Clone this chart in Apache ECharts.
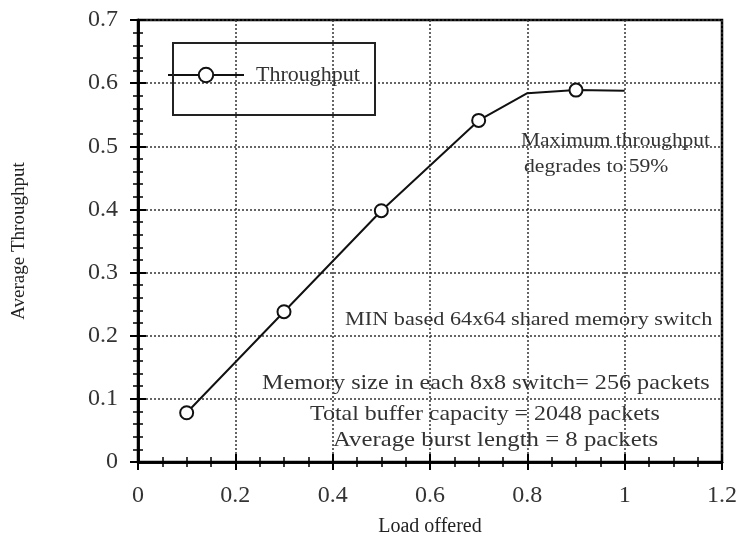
<!DOCTYPE html>
<html><head><meta charset="utf-8">
<script src="https://cdn.jsdelivr.net/npm/echarts@6/dist/echarts.min.js"></script>
<style>html,body{margin:0;padding:0;background:#fff}#c{width:747px;height:541px}</style>
</head><body><div id="c"></div>
<script>
const xTicks = [0, 0.2, 0.4, 0.6, 0.8, 1, 1.2];
const yTicks = [0, 0.1, 0.2, 0.3, 0.4, 0.5, 0.6, 0.7];
const loadOffered = [0.1, 0.3, 0.5, 0.7, 0.8, 0.9, 1.0];
const throughput = [0.078, 0.238, 0.398, 0.541, 0.584, 0.589, 0.588];
const hasMarker = [true, true, true, true, false, true, false];
const notes = ["Maximum throughput", "degrades to 59%", "MIN based 64x64 shared memory switch",
  "Memory size in each 8x8 switch= 256 packets", "Total buffer capacity = 2048 packets",
  "Average burst length = 8 packets"];

const F = '"Liberation Serif", "Times New Roman", serif';
const chart = echarts.init(document.getElementById('c'));
const common = {
  min: 0, axisLine: {show: true, lineStyle: {color: '#000', width: 2.5}},
  axisTick: {inside: true, length: 8, lineStyle: {color: '#000', width: 2}},
  minorTick: {show: true, length: 5, lineStyle: {color: '#000', width: 1.5}},
};
function note(txt, x, y, size, sx) {
  return {type: 'text', x: x, y: y, scaleX: sx, z: 10,
    style: {text: txt, font: size + 'px ' + F, fill: '#333', align: 'left', verticalAlign: 'middle'}};
}
chart.setOption({
  animation: false,
  grid: {left: 138, right: 25, top: 20, bottom: 79, show: true, borderColor: '#000', borderWidth: 2.5,
         containLabel: false, outerBoundsMode: 'none'},
  legend: {
    left: 167, top: 64, orient: 'vertical', padding: 0,
    itemWidth: 76, itemHeight: 18, itemGap: 0,
    textStyle: {fontFamily: F, fontSize: 22, color: '#333', padding: [0, 0, 0, 7]},
    data: ['Throughput']
  },
  xAxis: [
    Object.assign({}, common, {
      type: 'value', max: 1.2, interval: 0.2, minorTick: Object.assign({}, common.minorTick, {splitNumber: 4}),
      name: 'Load offered', nameLocation: 'middle', nameGap: 55,
      nameTextStyle: {fontFamily: F, fontSize: 20, color: '#222'},
      axisLabel: {fontFamily: F, fontSize: 24, color: '#333', margin: 22, formatter: v => String(+v.toFixed(1))},
      splitLine: {show: true, lineStyle: {type: [2, 2], color: '#333', width: 1.5}}
    }),
    Object.assign({}, common, {
      type: 'value', position: 'top', max: 1.2, interval: 0.2,
      minorTick: Object.assign({}, common.minorTick, {splitNumber: 4}),
      axisLabel: {show: false}, splitLine: {show: false}
    })
  ],
  yAxis: [
    Object.assign({}, common, {
      type: 'value', max: 0.7, interval: 0.1, minorTick: Object.assign({}, common.minorTick, {splitNumber: 5}),
      name: 'Average Throughput', nameLocation: 'middle', nameGap: 109, nameRotate: 90,
      nameTextStyle: {fontFamily: F, fontSize: 19, color: '#222'},
      axisLabel: {fontFamily: F, fontSize: 24, color: '#333', margin: 20, formatter: v => String(+v.toFixed(1))},
      splitLine: {show: true, lineStyle: {type: [2, 2], color: '#333', width: 1.5}}
    }),
    Object.assign({}, common, {
      type: 'value', position: 'right', max: 0.7, interval: 0.1,
      minorTick: Object.assign({}, common.minorTick, {splitNumber: 5}),
      axisLabel: {show: false}, splitLine: {show: false}
    })
  ],
  series: [{
    name: 'Throughput', type: 'line', xAxisIndex: 0, yAxisIndex: 0,
    symbol: 'emptyCircle', symbolSize: 13,
    lineStyle: {color: '#111', width: 2},
    itemStyle: {color: '#111', borderColor: '#111', borderWidth: 2},
    data: loadOffered.map((x, i) => hasMarker[i] ? [x, throughput[i]] : {value: [x, throughput[i]], symbol: 'none'})
  }],
  graphic: [
    {type: 'rect', shape: {x: 173, y: 43, width: 202, height: 72}, style: {fill: 'none', stroke: '#222', lineWidth: 2}, z: 5},
    note(notes[0], 521, 141, 19, 1.13),
    note(notes[1], 524, 167, 19, 1.14),
    note(notes[2], 345, 320, 19, 1.17),
    note(notes[3], 262, 383, 21, 1.15),
    note(notes[4], 310, 414, 21, 1.14),
    note(notes[5], 333, 440, 21, 1.18)
  ]
});
</script></body></html>
